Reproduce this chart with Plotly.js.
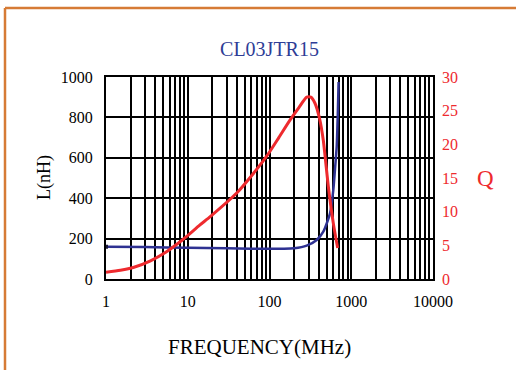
<!DOCTYPE html>
<html><head><meta charset="utf-8">
<script src="https://cdn.plot.ly/plotly-3.0.1.min.js"></script>
<style>html,body{margin:0;padding:0;background:#fff;}#chart{width:516px;height:370px;}</style>
</head><body><div id="chart"></div>
<script>
// Data
var freqL = [1, 3, 10, 30, 60, 100, 150, 200, 285, 378, 455, 550, 603, 640, 664, 685, 700];
var inductance = [160, 158, 155, 152, 150, 150, 150, 152, 165, 193, 234, 325, 440, 570, 655, 820, 975];
var freqQ = [1, 1.5, 2.2, 3.5, 5.5, 8.8, 14, 19, 40, 60, 92, 130, 178, 230, 285, 320, 360, 410, 455, 525, 603, 682];
var qValues = [1.0, 1.3, 1.75, 2.7, 4.05, 5.9, 8.0, 9.3, 12.8, 15.3, 18.2, 21.0, 23.6, 25.5, 27.0, 27.0, 26.1, 23.8, 20.6, 13.7, 8.3, 4.6];
var xTickValues = [1, 10, 100, 1000, 10000];
var xTickLabels = ['1', '10', '100', '1000', '10000'];
var yTickValues = [0, 200, 400, 600, 800, 1000];
var qTickValues = [0, 5, 10, 15, 20, 25, 30];

// gridline positions (decade digits) built from tick values
var gridVals = [], gridText = [];
for (var d = 0; d < xTickValues.length; d++) {
  var base = xTickValues[d];
  gridVals.push(base); gridText.push(xTickLabels[d]);
  if (d < xTickValues.length - 1) {
    for (var k = 2; k <= 9; k++) { gridVals.push(base * k); gridText.push(''); }
  }
}

var serif = 'Liberation Serif, Times New Roman, serif';
var traces = [
  {x: freqL, y: inductance, type: 'scatter', mode: 'lines', yaxis: 'y',
   line: {color: '#2E3192', width: 2.5, shape: 'spline', smoothing: 0.6}, hoverinfo: 'skip'},
  {x: [freqL[0]], y: [inductance[0]], type: 'scatter', mode: 'markers', yaxis: 'y',
   marker: {symbol: 'square', size: 4, color: '#1a1a3a'}, hoverinfo: 'skip'},
  {x: freqQ, y: qValues, type: 'scatter', mode: 'lines', yaxis: 'y2',
   line: {color: '#EE2A2E', width: 3, shape: 'spline', smoothing: 0.6}, hoverinfo: 'skip'}
];

var layout = {
  width: 516, height: 370,
  margin: {l: 106, r: 83, t: 77, b: 91, pad: 0},
  paper_bgcolor: '#fff', plot_bgcolor: '#fff',
  showlegend: false,
  font: {family: serif, size: 16, color: '#000'},
  title: {text: 'CL03JTR15', font: {family: serif, size: 20, color: '#2E3D96'},
          xref: 'paper', x: 0.5, xanchor: 'center', yref: 'container', y: 1 - 49/370, yanchor: 'middle'},
  xaxis: {type: 'log', range: [0, 4], tickmode: 'array', tickvals: gridVals, ticktext: gridText,
          showgrid: true, gridcolor: '#000', gridwidth: 2, zeroline: false,
          showline: true, linecolor: '#000', linewidth: 2, mirror: true, ticks: '',
          tickfont: {family: serif, size: 16, color: '#000'}, ticklabelstandoff: 7},
  yaxis: {range: [0, 1000], tickmode: 'array', tickvals: yTickValues,
          showgrid: true, gridcolor: '#000', gridwidth: 2, zeroline: false,
          showline: true, linecolor: '#000', linewidth: 2, mirror: true, ticks: '',
          tickfont: {family: serif, size: 16, color: '#000'}, ticklabelstandoff: 8},
  yaxis2: {range: [0, 30], overlaying: 'y', side: 'right', tickmode: 'array', tickvals: qTickValues,
           showgrid: false, zeroline: false, showline: false, ticks: '',
           tickfont: {family: serif, size: 16, color: '#EE2A2E'}, ticklabelstandoff: 8},
  annotations: [
    {text: 'FREQUENCY(MHz)', xref: 'paper', yref: 'paper', x: (259.5-106)/327, y: (279-347)/202,
     xanchor: 'center', yanchor: 'middle', showarrow: false, font: {family: serif, size: 21, color: '#000'}},
    {text: 'L(nH)', xref: 'paper', yref: 'paper', x: (44-106)/327, y: (279-178)/202, textangle: -90,
     xanchor: 'center', yanchor: 'middle', showarrow: false, font: {family: serif, size: 18, color: '#000'}},
    {text: 'Q', xref: 'paper', yref: 'paper', x: (485-106)/327, y: (279-178)/202,
     xanchor: 'center', yanchor: 'middle', showarrow: false, font: {family: serif, size: 23, color: '#EE2A2E'}}
  ],
  shapes: [
    {type: 'line', xref: 'paper', yref: 'paper', x0: (5-106)/327, x1: (520-106)/327, y0: (279-8)/202, y1: (279-8)/202,
     line: {color: '#D67B35', width: 2.5}},
    {type: 'line', xref: 'paper', yref: 'paper', x0: (5-106)/327, x1: (5-106)/327, y0: (279-8)/202, y1: (279-375)/202,
     line: {color: '#D67B35', width: 2.5}}
  ]
};
Plotly.newPlot('chart', traces, layout, {staticPlot: true, displayModeBar: false});
</script></body></html>
